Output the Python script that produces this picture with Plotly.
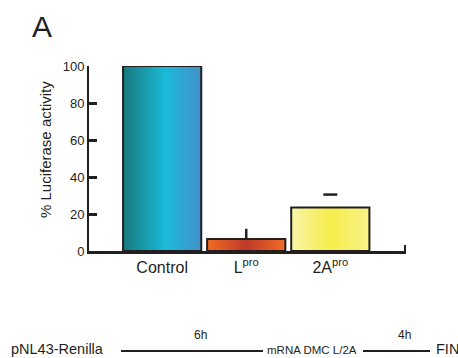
import plotly.graph_objects as go

# ---- data ----
categories = ["Control", "L<sup>pro</sup>", "2A<sup>pro</sup>"]
values = [100, 6.5, 23.5]
err_plus = [0, 5.5, 7]
y_ticks = [0, 20, 40, 60, 80, 100]
timeline_labels = ["pNL43-Renilla", "mRNA DMC L/2A", "FIN"]
timeline_times = ["6h", "4h"]

# gradient stops per bar (position, color)
grad_stops = [
    [(0.0, "#167a7e"), (0.55, "#1bbad9"), (1.0, "#4490ca")],
    [(0.0, "#f26c24"), (0.5, "#bf3a2b"), (1.0, "#f26c24")],
    [(0.0, "#f9f4a8"), (0.5, "#f6ed4c"), (1.0, "#f9f388")],
]

INK = "#231f20"
BAR_W = 0.93
N_STRIPS = 40


def hex_to_rgb(h):
    h = h.lstrip("#")
    return tuple(int(h[i:i + 2], 16) for i in (0, 2, 4))


def interp(stops, t):
    for (p0, c0), (p1, c1) in zip(stops[:-1], stops[1:]):
        if p0 <= t <= p1:
            f = (t - p0) / (p1 - p0) if p1 > p0 else 0
            a, b = hex_to_rgb(c0), hex_to_rgb(c1)
            r = [round(a[k] + (b[k] - a[k]) * f) for k in range(3)]
            return f"rgb({r[0]},{r[1]},{r[2]})"
    return stops[-1][1]


fig = go.Figure()

strip_w = BAR_W / N_STRIPS
for i in range(N_STRIPS):
    t = (i + 0.5) / N_STRIPS
    colors = [interp(s, t) for s in grad_stops]
    w = strip_w * 1.6 if i < N_STRIPS - 1 else strip_w
    fig.add_trace(go.Bar(
        x=categories, y=values,
        offset=-BAR_W / 2 + i * strip_w, width=w,
        marker=dict(color=colors, line=dict(width=0)),
        showlegend=False, hoverinfo="skip",
    ))

# outlines
fig.add_trace(go.Bar(
    x=categories, y=values, width=BAR_W,
    marker=dict(color="rgba(0,0,0,0)", line=dict(color=INK, width=2)),
    cliponaxis=False, showlegend=False,
))

# error line for L (no cap)
fig.add_trace(go.Scatter(
    x=[categories[1]], y=[values[1]], mode="markers",
    marker=dict(size=1, color="rgba(0,0,0,0)"),
    error_y=dict(type="data", array=[err_plus[1]], arrayminus=[0], symmetric=False,
                 width=0, thickness=2.5, color=INK),
    showlegend=False, cliponaxis=False,
))
# cap only for 2A
fig.add_trace(go.Scatter(
    x=[categories[2]], y=[values[2] + err_plus[2]], mode="markers",
    marker=dict(symbol="line-ew", size=10, line=dict(width=2.5, color=INK)),
    showlegend=False, cliponaxis=False,
))

L, R, T, B = 89, 52, 66, 107
W, H = 458, 358
pw = W - L - R
ph = H - T - B


def px(x):
    return (x - L) / pw


def py(y):
    return (H - B - y) / ph


fig.update_layout(
    width=W, height=H,
    margin=dict(l=L, r=R, t=T, b=B),
    paper_bgcolor="white", plot_bgcolor="white",
    barmode="overlay",
    font=dict(family="Liberation Sans, Arial, sans-serif", color=INK),
    xaxis=dict(
        range=[-0.87, 2.9], showline=True, linecolor=INK, linewidth=2.5,
        ticks="", showgrid=False, zeroline=False,
        tickfont=dict(size=16, color=INK),
    ),
    yaxis=dict(
        range=[0, 100], tickvals=y_ticks, showline=True, linecolor=INK, linewidth=2,
        ticks="inside", ticklen=8, tickwidth=2.5, tickcolor=INK,
        showgrid=False, zeroline=False,
        tickfont=dict(size=13, color=INK),
    ),
)

annotations = [
    dict(text="A", x=px(42), y=py(27), xref="paper", yref="paper",
         showarrow=False, font=dict(size=30, color=INK), xanchor="center", yanchor="middle"),
    dict(text="% Luciferase activity", x=px(45), y=py(150), xref="paper", yref="paper",
         showarrow=False, textangle=-90, font=dict(size=15, color=INK),
         xanchor="center", yanchor="middle"),
    dict(text=timeline_labels[0], x=px(9), y=py(349), xref="paper", yref="paper",
         showarrow=False, font=dict(size=14.5, color=INK), xanchor="left", yanchor="middle"),
    dict(text=timeline_labels[1], x=px(312), y=py(350), xref="paper", yref="paper",
         showarrow=False, font=dict(size=11.5, color=INK), xanchor="center", yanchor="middle"),
    dict(text=timeline_labels[2], x=px(434), y=py(349), xref="paper", yref="paper",
         showarrow=False, font=dict(size=14.5, color=INK), xanchor="left", yanchor="middle"),
    dict(text=timeline_times[0], x=px(200), y=py(335), xref="paper", yref="paper",
         showarrow=False, font=dict(size=12, color=INK), xanchor="center", yanchor="middle"),
    dict(text=timeline_times[1], x=px(404), y=py(335), xref="paper", yref="paper",
         showarrow=False, font=dict(size=12, color=INK), xanchor="center", yanchor="middle"),
]
fig.update_layout(annotations=annotations)

shapes = [
    dict(type="line", xref="paper", yref="paper", x0=px(121), x1=px(263), y0=py(351), y1=py(351),
         line=dict(color=INK, width=2)),
    dict(type="line", xref="paper", yref="paper", x0=px(363), x1=px(430), y0=py(351), y1=py(351),
         line=dict(color=INK, width=2)),
    dict(type="line", xref="paper", yref="paper", x0=px(405), x1=px(405), y0=py(251), y1=py(245),
         line=dict(color=INK, width=2)),
]
fig.update_layout(shapes=shapes)

fig.write_html("out.html")
